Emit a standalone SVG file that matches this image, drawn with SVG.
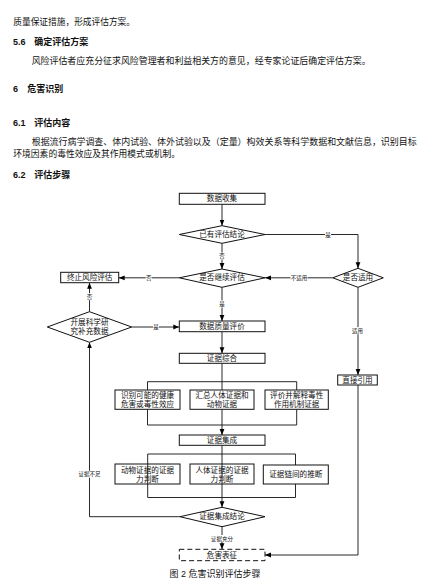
<svg xmlns="http://www.w3.org/2000/svg" width="441" height="587" viewBox="0 0 441 587">
<defs>
<marker id="ah" markerUnits="userSpaceOnUse" markerWidth="6" markerHeight="6" viewBox="0 0 6 6" refX="6" refY="3" orient="auto">
<path d="M0,0.6 L6,3 L0,5.4 Z" fill="#000"/>
</marker>
<style>
text{font-family:"Liberation Sans","Noto Sans CJK SC",sans-serif;fill:#111;dominant-baseline:central}
.body{font-size:9px}
.hd{font-size:9px;font-weight:bold}
.nt{font-size:7.6px;text-anchor:middle}
.lb{font-size:5.5px;text-anchor:middle}
.box{fill:#fff;stroke:#111;stroke-width:1}
.dash{fill:#fff;stroke:#111;stroke-width:1;stroke-dasharray:5 3}
.ln{fill:none;stroke:#111;stroke-width:0.9}
.arr{fill:none;stroke:#111;stroke-width:0.9;marker-end:url(#ah)}
.lbg{fill:#fff}
</style>
</defs>
<rect width="441" height="587" fill="#fff"/>

<g id="header">
<text class="body" x="13.3" y="21.5" textLength="121.7" lengthAdjust="spacingAndGlyphs">质量保证措施，形成评估方案。</text>
<text class="hd" x="13" y="41.7">5.6</text>
<text class="hd" x="34.3" y="41.7">确定评估方案</text>
<text class="body" x="31.7" y="61.3" textLength="339" lengthAdjust="spacingAndGlyphs">风险评估者应充分征求风险管理者和利益相关方的意见，经专家论证后确定评估方案。</text>
<text class="hd" x="13" y="88.7">6</text>
<text class="hd" x="27.3" y="88.7">危害识别</text>
<text class="hd" x="13" y="122.5">6.1</text>
<text class="hd" x="34.3" y="122.5">评估内容</text>
<text class="body" x="31.7" y="142" textLength="385" lengthAdjust="spacingAndGlyphs">根据流行病学调查、体内试验、体外试验以及（定量）构效关系等科学数据和文献信息，识别目标</text>
<text class="body" x="13.3" y="154.3" textLength="166.7" lengthAdjust="spacingAndGlyphs">环境因素的毒性效应及其作用模式或机制。</text>
<text class="hd" x="13" y="175.3">6.2</text>
<text class="hd" x="34.3" y="175.3">评估步骤</text>
</g>

<g id="connectors">
<path class="arr" d="M222,204.3 V225.7"/>
<path class="arr" d="M265,234.5 H358 V268.3"/>
<path class="arr" d="M222,243.3 V269"/>
<path class="arr" d="M332.7,277.8 H265"/>
<path class="arr" d="M179.3,277.8 H118.7"/>
<path class="arr" d="M222,287.3 V321"/>
<path class="arr" d="M89.5,311.7 V282.7"/>
<path class="arr" d="M131.7,327 H179.3"/>
<path class="arr" d="M222,331.7 V353.3"/>
<path class="ln" d="M222,363.3 V381.7 M147.5,390 V381.7 H296.7 V390 M222,381.7 V390"/>
<path class="ln" d="M147.5,409.3 V425 H296.7 V409.3"/>
<path class="arr" d="M222,409.3 V435"/>
<path class="arr" d="M222,445.3 V507.3"/>
<path class="ln" d="M147.7,497.5 V454 H295.5 V465 M295.5,484 V497.5 H147.7"/>
<path class="arr" d="M180,516.7 H89.5 V342.3"/>
<path class="arr" d="M222,526.7 V549.3"/>
<path class="arr" d="M358,287.3 V375"/>
<path class="arr" d="M358,385 V555 H265"/>
</g>

<g id="labels">
<rect class="lbg" x="325" y="231" width="6" height="7"/><text class="lb" x="328" y="234.5">是</text>
<rect class="lbg" x="219" y="252.5" width="6" height="7"/><text class="lb" x="222" y="256">否</text>
<rect class="lbg" x="145.7" y="274.3" width="6" height="7"/><text class="lb" x="148.7" y="277.8">否</text>
<rect class="lbg" x="290.5" y="274.3" width="17" height="7"/><text class="lb" x="299" y="277.8">不适用</text>
<rect class="lbg" x="86.5" y="293.2" width="6" height="7"/><text class="lb" x="89.5" y="296.7">否</text>
<rect class="lbg" x="219" y="300.5" width="6" height="7"/><text class="lb" x="222" y="304">是</text>
<rect class="lbg" x="153" y="323.5" width="6" height="7"/><text class="lb" x="156" y="327">是</text>
<rect class="lbg" x="352" y="327.2" width="11" height="7"/><text class="lb" x="357.5" y="330.7">适用</text>
<rect class="lbg" x="78" y="470.8" width="23" height="7"/><text class="lb" x="89.5" y="474.3">证据不足</text>
<rect class="lbg" x="210.5" y="535" width="23" height="7"/><text class="lb" x="222" y="538.5">证据充分</text>
</g>

<g id="n-collect"><rect class="box" x="179.3" y="193.3" width="85.7" height="11"/><text class="nt" x="222" y="198.8">数据收集</text></g>
<g id="n-existing"><polygon class="box" points="222,225.7 265,234.5 222,243.3 179.3,234.5"/><text class="nt" x="222" y="234.5">已有评估结论</text></g>
<g id="n-continue"><polygon class="box" points="222,269 265,277.8 222,287.3 179.3,277.8"/><text class="nt" x="222" y="277.8">是否继续评估</text></g>
<g id="n-applicable"><polygon class="box" points="358,268.3 383.3,277.8 358,287.3 332.7,277.8"/><text class="nt" x="358" y="277.8">是否适用</text></g>
<g id="n-terminate"><rect class="box" x="60.7" y="272.3" width="58" height="10.4"/><text class="nt" x="89.7" y="277.5">终止风险评估</text></g>
<g id="n-research"><polygon class="box" points="89.5,311.7 131.7,327 89.5,342.3 47.3,327"/><text class="nt" x="89.5" y="322.6">开展科学研</text><text class="nt" x="89.5" y="331.2">究补充数据</text></g>
<g id="n-quality"><rect class="box" x="179.3" y="321" width="85.7" height="10.7"/><text class="nt" x="222" y="326.3">数据质量评价</text></g>
<g id="n-synth"><rect class="box" x="179.3" y="353.3" width="85.7" height="10"/><text class="nt" x="222" y="358.3">证据综合</text></g>
<g id="n-id"><rect class="box" x="115" y="390" width="65" height="19.3"/><text class="nt" x="147.5" y="395.2">识别可能的健康</text><text class="nt" x="147.5" y="404.2">危害或毒性效应</text></g>
<g id="n-sum"><rect class="box" x="190" y="390" width="64" height="19.3"/><text class="nt" x="222" y="395.2">汇总人体证据和</text><text class="nt" x="222" y="404.2">动物证据</text></g>
<g id="n-mech"><rect class="box" x="265" y="390" width="63.3" height="19.3"/><text class="nt" x="296.7" y="395.2">评价并解释毒性</text><text class="nt" x="296.7" y="404.2">作用机制证据</text></g>
<g id="n-direct"><rect class="box" x="337.7" y="375" width="39.6" height="10"/><text class="nt" x="357.5" y="380">直接引用</text></g>
<g id="n-integ"><rect class="box" x="179.3" y="435" width="85.7" height="10.3"/><text class="nt" x="222" y="440.2">证据集成</text></g>
<g id="n-animal"><rect class="box" x="115" y="464" width="65" height="20"/><text class="nt" x="147.5" y="470.6">动物证据的证据</text><text class="nt" x="147.5" y="479.4">力判断</text></g>
<g id="n-human"><rect class="box" x="190" y="464" width="64" height="20"/><text class="nt" x="222" y="470.6">人体证据的证据</text><text class="nt" x="222" y="479.4">力判断</text></g>
<g id="n-chain"><rect class="box" x="263.3" y="465" width="65" height="19"/><text class="nt" x="295.8" y="474.5">证据链间的推断</text></g>
<g id="n-concl"><polygon class="box" points="222,507.3 265,516.7 222,526.7 180,516.7"/><text class="nt" x="222" y="516.7">证据集成结论</text></g>
<g id="n-hazard"><rect class="dash" x="179.3" y="549.3" width="85.7" height="11.4"/><text class="nt" x="222" y="555">危害表征</text></g>

<g id="pass-through">
<path class="ln" d="M147.7,464 V484 M222,464 V484"/>
</g>

<text x="215" y="573.5" style="font-size:9px;text-anchor:middle">图 2  危害识别评估步骤</text>
</svg>
